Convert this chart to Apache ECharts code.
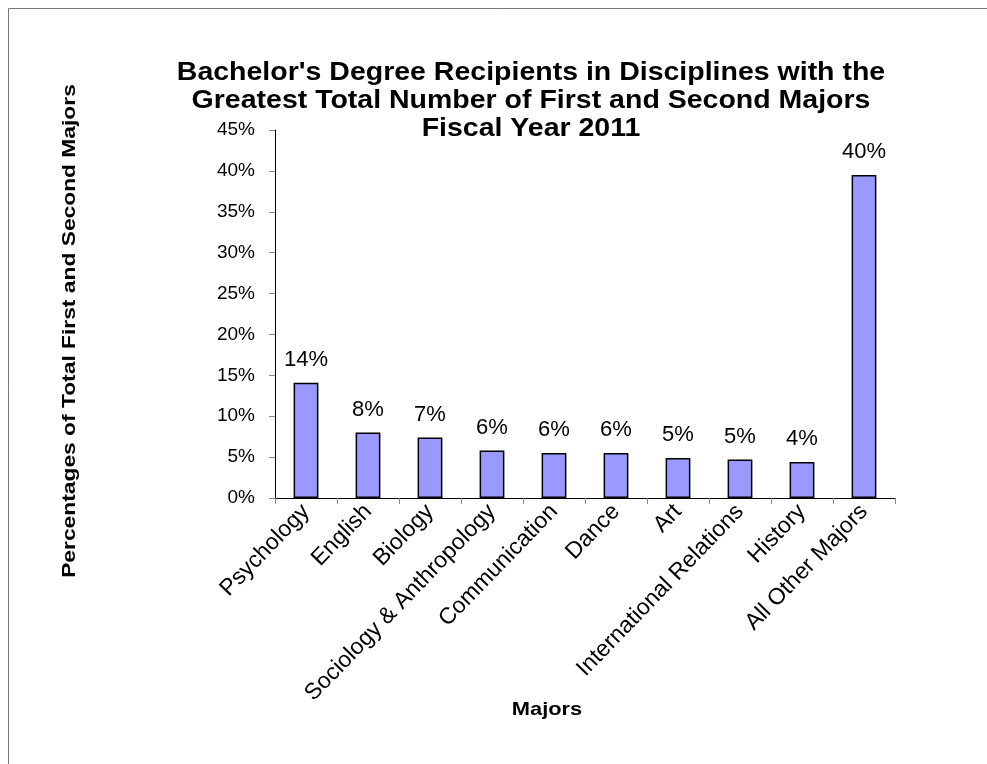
<!DOCTYPE html>
<html>
<head>
<meta charset="utf-8">
<script src="https://cdn.jsdelivr.net/npm/echarts@6/dist/echarts.min.js"></script>
<style>
html,body{margin:0;padding:0;background:#fff;}
#chart{width:987px;height:764px;}
</style>
</head>
<body>
<div id="chart"></div>
<script>
const categories = ["Psychology","English","Biology","Sociology & Anthropology","Communication","Dance","Art","International Relations","History","All Other Majors"];
const percentages = [14.1, 8.0, 7.4, 5.8, 5.5, 5.5, 4.9, 4.7, 4.4, 39.5];
const titleLines = ["Bachelor's Degree Recipients in Disciplines with the","Greatest Total Number of First and Second Majors","Fiscal Year 2011"];
const yAxisTitle = "Percentages of Total First and Second Majors";
const xAxisTitle = "Majors";

const FONT = "'Liberation Sans', Arial, sans-serif";
const chart = echarts.init(document.getElementById('chart'), null, {renderer:'canvas'});
chart.setOption({
  backgroundColor:'#ffffff',
  animation:false,
  grid:{left:275, right:92, top:130, bottom:266, containLabel:false},
  graphic:[
    {type:'rect', shape:{x:8.5,y:8.5,width:1200,height:1200}, style:{fill:'none', stroke:'#777', lineWidth:1}, silent:true},
    {type:'text', x:531, y:59, scaleX:1.14, style:{text:titleLines.join('\n'), font:"bold 25px "+FONT, fill:'#000', textAlign:'center', textVerticalAlign:'top', lineHeight:28}},
    {type:'text', x:70, y:331, rotation:Math.PI/2, scaleX:1.2, style:{text:yAxisTitle, font:"bold 19px "+FONT, fill:'#000', textAlign:'center', textVerticalAlign:'middle'}},
    {type:'text', x:547, y:710, scaleX:1.15, style:{text:xAxisTitle, font:"bold 19px "+FONT, fill:'#000', textAlign:'center', textVerticalAlign:'middle'}}
  ],
  xAxis:{
    type:'category', data:categories, boundaryGap:true,
    axisLine:{lineStyle:{color:'#000', width:1}},
    axisTick:{show:true, alignWithLabel:false, length:6, lineStyle:{color:'#888'}},
    axisLabel:{rotate:46, interval:0, color:'#000', fontSize:23, fontFamily:FONT, margin:10}
  },
  yAxis:{
    type:'value', min:0, max:45, interval:5,
    axisLine:{show:true, lineStyle:{color:'#000', width:1}},
    axisTick:{show:true, length:6, lineStyle:{color:'#888'}},
    splitLine:{show:false},
    axisLabel:{formatter:'{value}%', color:'#000', fontSize:19, fontFamily:FONT, margin:20}
  },
  series:[{
    type:'bar', data:percentages, barWidth:'40%',
    itemStyle:{color:'#9999FF', borderColor:'#000', borderWidth:1.5},
    label:{show:true, position:'top', distance:12, color:'#000', fontSize:22, fontFamily:FONT,
      formatter:p=>Math.round(p.value)+'%'}
  }]
});
</script>
</body>
</html>
